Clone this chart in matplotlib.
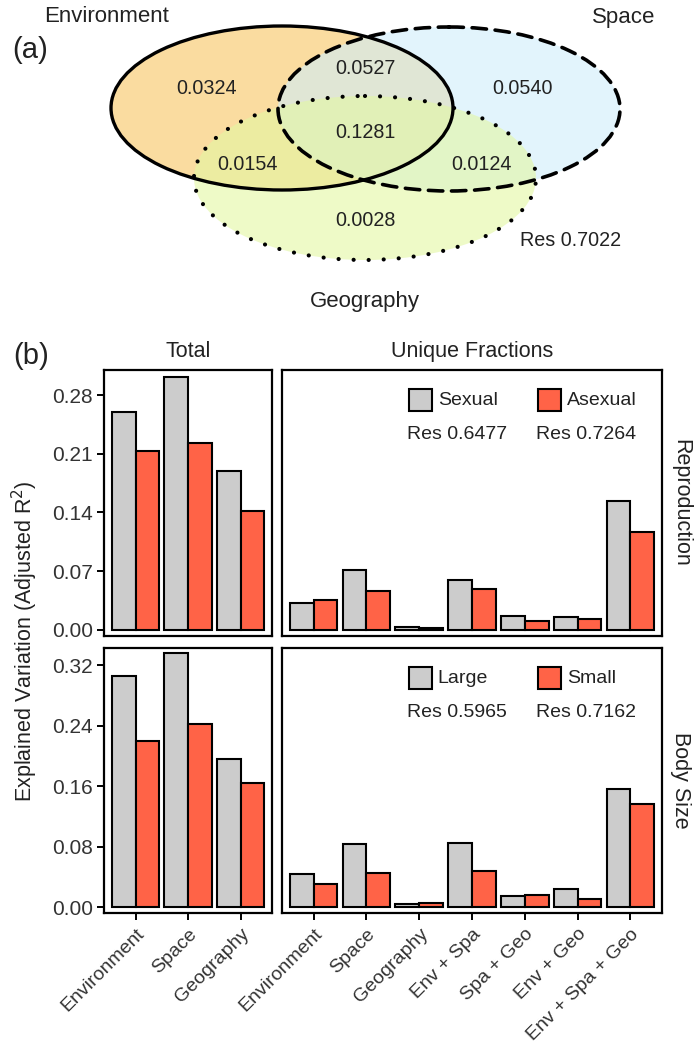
import numpy as np
import matplotlib
matplotlib.use("Agg")
import matplotlib.pyplot as plt
from matplotlib.patches import Ellipse, Rectangle

plt.rcParams['font.family'] = ['Liberation Sans', 'DejaVu Sans']

# ---- data -------------------------------------------------------------
venn_sets = ["Environment", "Space", "Geography"]
venn_values = ["0.0324", "0.0527", "0.0540", "0.1281", "0.0154", "0.0124", "0.0028"]
venn_res = "Res 0.7022"

total_cats = ["Environment", "Space", "Geography"]
unique_cats = ["Environment", "Space", "Geography", "Env + Spa",
               "Spa + Geo", "Env + Geo", "Env + Spa + Geo"]

repro_total_sexual = [0.260, 0.301, 0.189]
repro_total_asexual = [0.213, 0.223, 0.142]
repro_unique_sexual = [0.032, 0.0715, 0.004, 0.0596, 0.0167, 0.015, 0.1533]
repro_unique_asexual = [0.0357, 0.0465, 0.002, 0.0489, 0.011, 0.0127, 0.1164]

body_total_large = [0.305, 0.336, 0.196]
body_total_small = [0.220, 0.242, 0.164]
body_unique_large = [0.0436, 0.0833, 0.004, 0.0841, 0.015, 0.0242, 0.156]
body_unique_small = [0.0304, 0.045, 0.005, 0.047, 0.0163, 0.010, 0.136]

repro_groups = ["Sexual", "Asexual"]
repro_res = ["Res 0.6477", "Res 0.7264"]
body_groups = ["Large", "Small"]
body_res = ["Res 0.5965", "Res 0.7162"]

bar_colors = ["#cccccc", "#ff6347"]
W, H = 694, 1045
TXT = '#222222'

fig = plt.figure(figsize=(W / 100, H / 100), dpi=100)


def box(x0, y0, x1, y1):
    # pixel box (top-left origin) -> figure fraction rect
    return [x0 / W, 1 - y1 / H, (x1 - x0) / W, (y1 - y0) / H]


def ftext(x, y, s, **kw):
    fig.text(x / W, 1 - y / H, s, **kw)


# ---- (a) Venn ---------------------------------------------------------
va = fig.add_axes([0, 1 - 320 / H, 1, 320 / H])
va.set_xlim(0, W)
va.set_ylim(320, 0)
va.axis('off')

fills = ["#f8c561", "#d0eefa", "#e3f7a3"]
centers = [(282, 108), (449, 109), (365, 178)]
styles = ['-', (0, (4, 2.4)), (0, (0.01, 3.6))]
lws = [2.4, 2.6, 3.0]
for (cx, cy), fc in zip(centers, fills):
    va.add_patch(Ellipse((cx, cy), 342, 164, facecolor=fc, edgecolor='none', alpha=0.6))
for (cx, cy), ls, lw in zip(centers, styles, lws):
    e = Ellipse((cx, cy), 342, 164, facecolor='none', edgecolor='black',
                linestyle=ls, lw=lw, capstyle='round')
    va.add_patch(e)

val_pos = [(207, 89), (365, 68), (523, 89), (365, 133), (248, 165), (482, 165), (365, 220)]
for (x, y), v in zip(val_pos, venn_values):
    va.text(x, y, v, ha='center', va='center', fontsize=14.2, color=TXT)
va.text(571, 241, venn_res, ha='center', va='center', fontsize=14.2, color=TXT)
va.text(107, 17, venn_sets[0], ha='center', va='center', fontsize=16, color=TXT)
va.text(624, 17, venn_sets[1], ha='center', va='center', fontsize=16, color=TXT)
va.text(365, 302, venn_sets[2], ha='center', va='center', fontsize=16, color=TXT)
va.text(30, 50, "(a)", ha='center', va='center', fontsize=21, color=TXT)

# ---- (b) bars ---------------------------------------------------------
ax_tl = fig.add_axes(box(104, 370, 272, 636))
ax_tr = fig.add_axes(box(282, 370, 662, 636))
ax_bl = fig.add_axes(box(104, 648, 272, 913))
ax_br = fig.add_axes(box(282, 648, 662, 913))

panels = [
    (ax_tl, total_cats, repro_total_sexual, repro_total_asexual),
    (ax_tr, unique_cats, repro_unique_sexual, repro_unique_asexual),
    (ax_bl, total_cats, body_total_large, body_total_small),
    (ax_br, unique_cats, body_unique_large, body_unique_small),
]
bw = 0.45
for ax, cats, a, b in panels:
    x = np.arange(1, len(cats) + 1)
    ax.bar(x - bw / 2, a, bw, color=bar_colors[0], edgecolor='black', lw=1.5)
    ax.bar(x + bw / 2, b, bw, color=bar_colors[1], edgecolor='black', lw=1.5)
    ax.set_xlim(0.4, len(cats) + 0.6)
    ax.set_xticks(x)
    for sp in ax.spines.values():
        sp.set_linewidth(1.6)
    ax.tick_params(axis='y', length=5, width=1.4, labelsize=15, labelcolor='#333333', pad=3)
    ax.tick_params(axis='x', length=5, width=1.4, labelsize=14, labelcolor='#333333', pad=4)

for ax in (ax_tl, ax_tr):
    ax.set_ylim(-0.0072, 0.3098)
for ax in (ax_bl, ax_br):
    ax.set_ylim(-0.0079, 0.3425)

ax_tl.set_yticks([0, 0.07, 0.14, 0.21, 0.28])
ax_bl.set_yticks([0, 0.08, 0.16, 0.24, 0.32])
for ax in (ax_tl, ax_bl):
    ax.set_yticklabels([f"{t:.2f}" for t in ax.get_yticks()])
for ax in (ax_tr, ax_br):
    ax.tick_params(axis='y', left=False, labelleft=False)
for ax in (ax_tl, ax_tr):
    ax.tick_params(axis='x', bottom=False, labelbottom=False)

ax_bl.set_xticklabels(total_cats, rotation=45, ha='right', va='top', rotation_mode='anchor')
ax_br.set_xticklabels(unique_cats, rotation=45, ha='right', va='top', rotation_mode='anchor')


def legend_block(ax, groups, res):
    kx = [0.334, 0.674]
    for i in range(2):
        ax.add_patch(Rectangle((kx[i], 0.845), 0.06, 0.082, transform=ax.transAxes,
                               facecolor=bar_colors[i], edgecolor='black', lw=1.5))
        ax.text(kx[i] + 0.076, 0.885, groups[i], transform=ax.transAxes,
                ha='left', va='center', fontsize=14, color=TXT)
        ax.text(kx[i] - 0.005, 0.757, res[i], transform=ax.transAxes,
                ha='left', va='center', fontsize=14, color=TXT)


legend_block(ax_tr, repro_groups, repro_res)
legend_block(ax_br, body_groups, body_res)

ftext(188, 352, "Total", ha='center', va='center', fontsize=15.5, color=TXT)
ftext(472, 352, "Unique Fractions", ha='center', va='center', fontsize=15.5, color=TXT)
ftext(681, 503, "Reproduction", ha='center', va='center', rotation=-90, fontsize=15.5, color=TXT)
ftext(681, 780, "Body Size", ha='center', va='center', rotation=-90, fontsize=15.5, color=TXT)
ftext(25, 641, "Explained Variation (Adjusted R$^2$)", ha='center', va='center',
      rotation=90, fontsize=15.5, color=TXT)
ftext(31, 356, "(b)", ha='center', va='center', fontsize=21, color=TXT)

fig.savefig("out.png", dpi=100)
